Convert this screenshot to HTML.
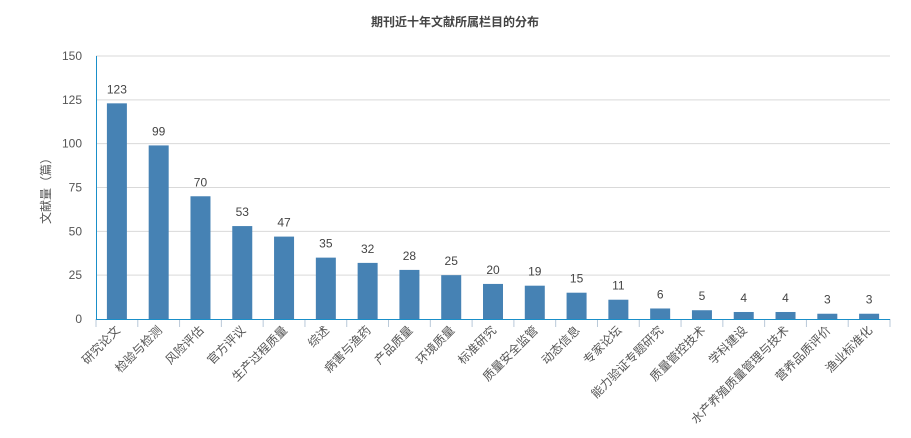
<!DOCTYPE html>
<html><head><meta charset="utf-8"><style>
body{margin:0;background:#fff;}
svg{display:block;font-family:"Liberation Sans","Noto Sans CJK SC",sans-serif;}
</style></head><body>
<svg id="c" width="911" height="438">
<text x="455" y="26" text-anchor="middle" font-size="12" font-weight="bold" fill="#444">期刊近十年文献所属栏目的分布</text>
<text transform="translate(50,188) rotate(-90)" text-anchor="middle" font-size="12" fill="#555">文献量（篇）</text>
</svg>
<script>
const categories=["研究论文","检验与检测","风险评估","官方评议","生产过程质量","综述","病害与渔药","产品质量","环境质量","标准研究","质量安全监管","动态信息","专家论坛","能力验证专题研究","质量管控技术","学科建设","水产养殖质量管理与技术","营养品质评价","渔业标准化","生产过程与质量"];
categories.splice(19,1);
const values=[123,99,70,53,47,35,32,28,25,20,19,15,11,6,5,4,4,3,3];
const yTicks=[0,25,50,75,100,125,150];
const svg=document.getElementById('c');const NS='http://www.w3.org/2000/svg';
const L=96,R=890,T=56,B=319,maxV=150;
const y=v=>B-(v/maxV)*(B-T);
const band=(R-L)/categories.length;
const x=i=>L+band*i;
function mk(t,a,p){const e=document.createElementNS(NS,t);for(const k in a)e.setAttribute(k,a[k]);(p||svg).appendChild(e);return e;}
yTicks.forEach(t=>{
 if(t>0){const g=mk('line',{x1:L,x2:R,y1:y(t),y2:y(t),stroke:'#d9d9d9'});
 
 }
 const tx=mk('text',{x:L-14,y:y(t)+4,'text-anchor':'end','font-size':12,fill:'#555'});tx.textContent=t;
 
 
});
const ya=mk('line',{x1:L+0.5,x2:L+0.5,y1:T,y2:B,stroke:'#1a8fc9'});


categories.forEach((c,i)=>{
 const cx=x(i)+band/2,v=values[i];
 const r=mk('rect',{x:cx-10,y:y(v),width:20,height:B-y(v),fill:'#4682b4'});
 
 
 const vl=mk('text',{x:cx,y:y(v)-10,'text-anchor':'middle','font-size':12,fill:'#444'});vl.textContent=v;
 
 
 const tk=mk('line',{x1:x(i+1),x2:x(i+1),y1:B,y2:B+8,stroke:'#b8c8d8'});
 
 
 const lb=mk('text',{transform:`translate(${cx+4},${B+12}) rotate(-45)`,'text-anchor':'end','font-size':12,fill:'#555'});lb.textContent=c;
 
 
});
const t0=mk('line',{x1:L,x2:L,y1:B,y2:B+8,stroke:'#b8c8d8'});


const xa=mk('line',{x1:L,x2:R,y1:B+0.5,y2:B+0.5,stroke:'#1a8fc9'});


</script>
</body></html>
